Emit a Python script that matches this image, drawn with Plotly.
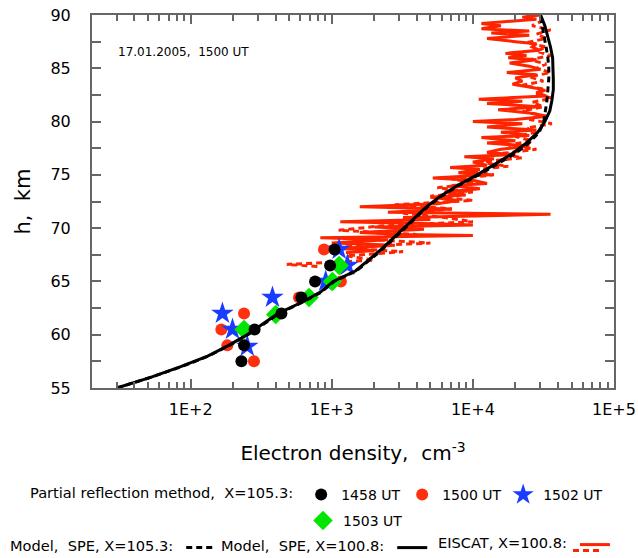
import plotly.graph_objects as go

# ---------------- data ----------------
model_h = [55, 56, 57, 58, 59, 60, 61, 62, 63, 64, 65, 66, 67, 68, 69, 70, 71, 72,
           73, 74, 75, 76, 77, 78, 79, 80, 81, 82, 83, 84, 85, 86, 87, 88, 89, 90]
model_1008 = [30, 52, 85, 132, 186, 251, 324, 417, 603, 832, 1023, 1479, 1820, 2239,
              2692, 3236, 3890, 4677, 5888, 7762, 10720, 14450, 19050, 23990, 28840,
              32360, 35080, 36310, 37150, 37150, 37150, 36730, 35480, 33880, 32360, 30200]
model_1053 = [30, 52, 86, 134, 188, 254, 330, 425, 610, 845, 1040, 1500, 1850, 2280,
              2750, 3300, 3960, 4760, 6000, 7950, 11000, 15000, 20000, 25000, 29500,
              31800, 32800, 33500, 34000, 34500, 34500, 34000, 33000, 32000, 31000, 30000]

eiscat_h = [90.0, 89.8, 89.6, 89.2, 89.0, 88.7, 88.5, 88.3, 88.1, 87.8, 87.5, 87.3,
            87.0, 86.7, 86.4, 86.2, 86.0, 85.8, 85.5, 85.2, 84.9, 84.6, 84.4, 84.1,
            83.8, 83.5, 83.2, 83.0, 82.7, 82.4, 82.1, 81.9, 81.7, 81.4, 81.1, 80.8,
            80.5, 80.2, 80.0, 79.8, 79.5, 79.2, 79.0, 78.7, 78.5, 78.2, 78.0, 77.7,
            77.4, 77.1, 76.9, 76.7, 76.5, 76.2, 75.9, 75.7, 75.5, 75.2, 75.0, 74.7,
            74.5, 74.2, 74.0, 73.7, 73.4, 73.1, 72.9, 72.6, 72.3, 72.0, 71.8, 71.5,
            71.3, 71.0, 70.8, 70.6, 70.4, 70.3, 70.1, 69.9, 69.6, 69.4, 69.3, 69.1,
            68.9, 68.6, 68.4, 68.1, 67.9, 67.7]
eiscat_n = [30200, 22400, 28200, 11500, 15800, 11500, 25100, 13500, 25100, 12600, 20000, 28200,
            26300, 29500, 17000, 24000, 17800, 28200, 18200, 25100, 30200, 17400, 28200, 20000,
            22400, 19100, 26300, 31600, 28200, 33100, 11000, 22400, 12600, 29500, 15100, 25100,
            33900, 20000, 10000, 22400, 12600, 28200, 15800, 25100, 11500, 20000, 12600, 25100,
            15800, 12600, 20000, 8700, 14100, 10000, 12600, 6900, 11200, 7900, 13500, 5200,
            10000, 12600, 7100, 11200, 6300, 8900, 5000, 7900, 5600, 1580, 7100, 2500,
            35500, 3200, 5000, 1150, 6300, 10000, 2000, 4500, 1580, 3200, 10000, 830,
            2500, 1000, 2800, 1120, 2000, 1260]

eiscat2_h = [89.5, 89.0, 88.6, 88.2, 87.8, 87.4, 87.0, 86.6, 86.2, 85.8, 85.4, 85.0,
             84.6, 84.2, 83.8, 83.4, 83.0, 82.6, 82.2, 81.8, 81.4, 81.0, 80.6, 80.2,
             79.8, 79.4, 79.0, 78.6, 78.2, 77.8, 77.4, 77.0, 76.6, 76.2, 75.8, 75.4,
             75.0, 74.6, 74.2, 73.8, 73.4, 73.0, 72.6, 72.2, 71.8, 71.4, 71.0, 70.6,
             70.2, 69.8, 69.4, 69.0, 68.6, 68.2, 67.8, 67.4, 67.0, 66.6, 66.4]
eiscat2_n = [31600, 26300, 35500, 28200, 33100, 24000, 33100, 28200, 35500, 25100, 33100, 28200,
             35500, 25100, 31600, 22400, 33100, 28200, 36300, 26300, 31600, 22400, 30200, 25100,
             36300, 24000, 28200, 20000, 26300, 17800, 28200, 15800, 22400, 11200, 17800, 8900,
             14100, 7100, 11200, 5600, 10000, 5000, 10000, 2800, 7100, 3200, 6300, 10000,
             2200, 1120, 4000, 1580, 5000, 1000, 3200, 1260, 2000, 480, 800]

ut1458_h = [57.5, 59.0, 60.5, 62.0, 63.5, 65.0, 66.5, 68.0]
ut1458_n = [229, 239, 284, 440, 609, 762, 973, 1047]
ut1500_h = [57.5, 59.0, 60.5, 62.0, 63.5, 65.0, 68.0]
ut1500_n = [281, 182, 165, 239, 586, 1160, 881]
ut1502_h = [58.9, 60.5, 62.0, 63.5, 65.0, 66.5, 68.0]
ut1502_n = [252, 198, 168, 380, 906, 1291, 1128]
ut1503_h = [60.5, 61.9, 63.5, 65.0, 66.5]
ut1503_n = [239, 401, 690, 1011, 1128]

x_tickvals = [100, 1000, 10000, 100000]
x_ticktext = ["1E+2", "1E+3", "1E+4", "1E+5"]
y_tickvals = [55, 60, 65, 70, 75, 80, 85, 90]

# ---------------- layout helpers ----------------
W, H = 638, 558
L, R, T, B = 92, 24, 15, 170
PW, PH = W - L - R, H - T - B


def px(xp):
    return (xp - L) / PW


def py(yp):
    return (H - B - yp) / PH


FONT = "Tahoma, DejaVu Sans, Verdana, sans-serif"
RED = "#ff2400"
SP = "\u00a0"

fig = go.Figure()

fig.add_trace(go.Scatter(x=eiscat_n, y=eiscat_h, mode="lines", name=" ",
                         line=dict(color=RED, width=3), legend="legend5"))
fig.add_trace(go.Scatter(x=eiscat2_n, y=eiscat2_h, mode="lines", name=" ",
                         line=dict(color=RED, width=3, dash="6px,4px"), legend="legend6"))

fig.add_trace(go.Scatter(x=ut1500_n, y=ut1500_h, mode="markers", name="1500 UT",
                         marker=dict(symbol="circle", size=12, color="#ff3010"),
                         legend="legend", legendrank=2))
fig.add_trace(go.Scatter(x=ut1502_n, y=ut1502_h, mode="markers", name="1502 UT",
                         marker=dict(symbol="star", size=17, color="#1a3cff"),
                         legend="legend", legendrank=3))
fig.add_trace(go.Scatter(x=ut1503_n, y=ut1503_h, mode="markers", name="1503 UT",
                         marker=dict(symbol="diamond", size=15, color="#00e600"),
                         legend="legend2"))

fig.add_trace(go.Scatter(x=model_1053, y=model_h, mode="lines", name=" ",
                         line=dict(color="black", width=3, dash="6px,4px"), legend="legend3"))
fig.add_trace(go.Scatter(x=model_1008, y=model_h, mode="lines", name=" ",
                         line=dict(color="black", width=3), legend="legend4"))

fig.add_trace(go.Scatter(x=ut1458_n, y=ut1458_h, mode="markers", name="1458 UT",
                         marker=dict(symbol="circle", size=12, color="black"),
                         legend="legend", legendrank=1))

axcol = "#666666"
fig.update_xaxes(type="log", range=[1.30103, 5], tickvals=x_tickvals, ticktext=x_ticktext,
                 ticks="inside", ticklen=9, tickwidth=1.5, tickcolor=axcol,
                 minor=dict(ticks="inside", ticklen=6, tickwidth=1.5, tickcolor=axcol,
                            tickvals=[v * m for v in [10, 100, 1000, 10000] for m in range(2, 10)]),
                 showline=True, linecolor=axcol, linewidth=2, mirror="ticks",
                 showgrid=False, zeroline=False,
                 tickfont=dict(family=FONT, size=16, color="black"), ticklabelstandoff=6,
                 title=dict(text="Electron density," + SP + " cm<sup>-3</sup>",
                            font=dict(family=FONT, size=20, color="black"), standoff=28))
fig.update_yaxes(range=[55, 90], tickvals=y_tickvals,
                 ticks="inside", ticklen=9, tickwidth=1.5, tickcolor=axcol,
                 minor=dict(ticks="inside", ticklen=9, tickwidth=1.5, tickcolor=axcol, dtick=2.5),
                 showline=True, linecolor=axcol, linewidth=2, mirror="ticks",
                 showgrid=False, zeroline=False,
                 tickfont=dict(family=FONT, size=16, color="black"), ticklabelstandoff=16,
                 title=dict(text="h," + SP + " km", font=dict(family=FONT, size=21, color="black"),
                            standoff=14))

lf = dict(family=FONT, size=14, color="black")
tf = dict(family=FONT, size=14.6, color="black")
common = dict(orientation="h", bgcolor="rgba(0,0,0,0)", borderwidth=0, font=lf,
              xanchor="left", yanchor="middle", itemclick=False, itemdoubleclick=False)

fig.update_layout(
    width=W, height=H,
    margin=dict(l=L, r=R, t=T, b=B, autoexpand=False),
    paper_bgcolor="white", plot_bgcolor="white",
    font=dict(family=FONT, color="black"),
    legend=dict(**common, x=px(28), y=py(495), entrywidth=56,
                title=dict(text="Partial reflection method," + SP + " X=105.3:", side="left", font=tf)),
    legend2=dict(**common, x=px(303), y=py(521)),
    legend3=dict(**common, x=px(8), y=py(548),
                 title=dict(text="Model," + SP + " SPE, X=105.3:", side="left", font=tf)),
    legend4=dict(**common, x=px(219), y=py(548),
                 title=dict(text="Model," + SP + " SPE, X=100.8:", side="left", font=tf)),
    legend5=dict(**common, x=px(436), y=py(545),
                 title=dict(text="EISCAT, X=100.8:", side="left", font=tf)),
    legend6=dict(**common, x=px(568), y=py(551)),
    annotations=[dict(text="17.01.2005," + SP + " 1500 UT", x=px(116), y=py(52), xref="paper", yref="paper",
                      xanchor="left", yanchor="middle", showarrow=False,
                      font=dict(family=FONT, size=12, color="black"))],
)

fig.write_html("out.html", config={"displayModeBar": False},
               post_script="document.body.style.margin='0px';document.body.style.overflow='hidden';")
